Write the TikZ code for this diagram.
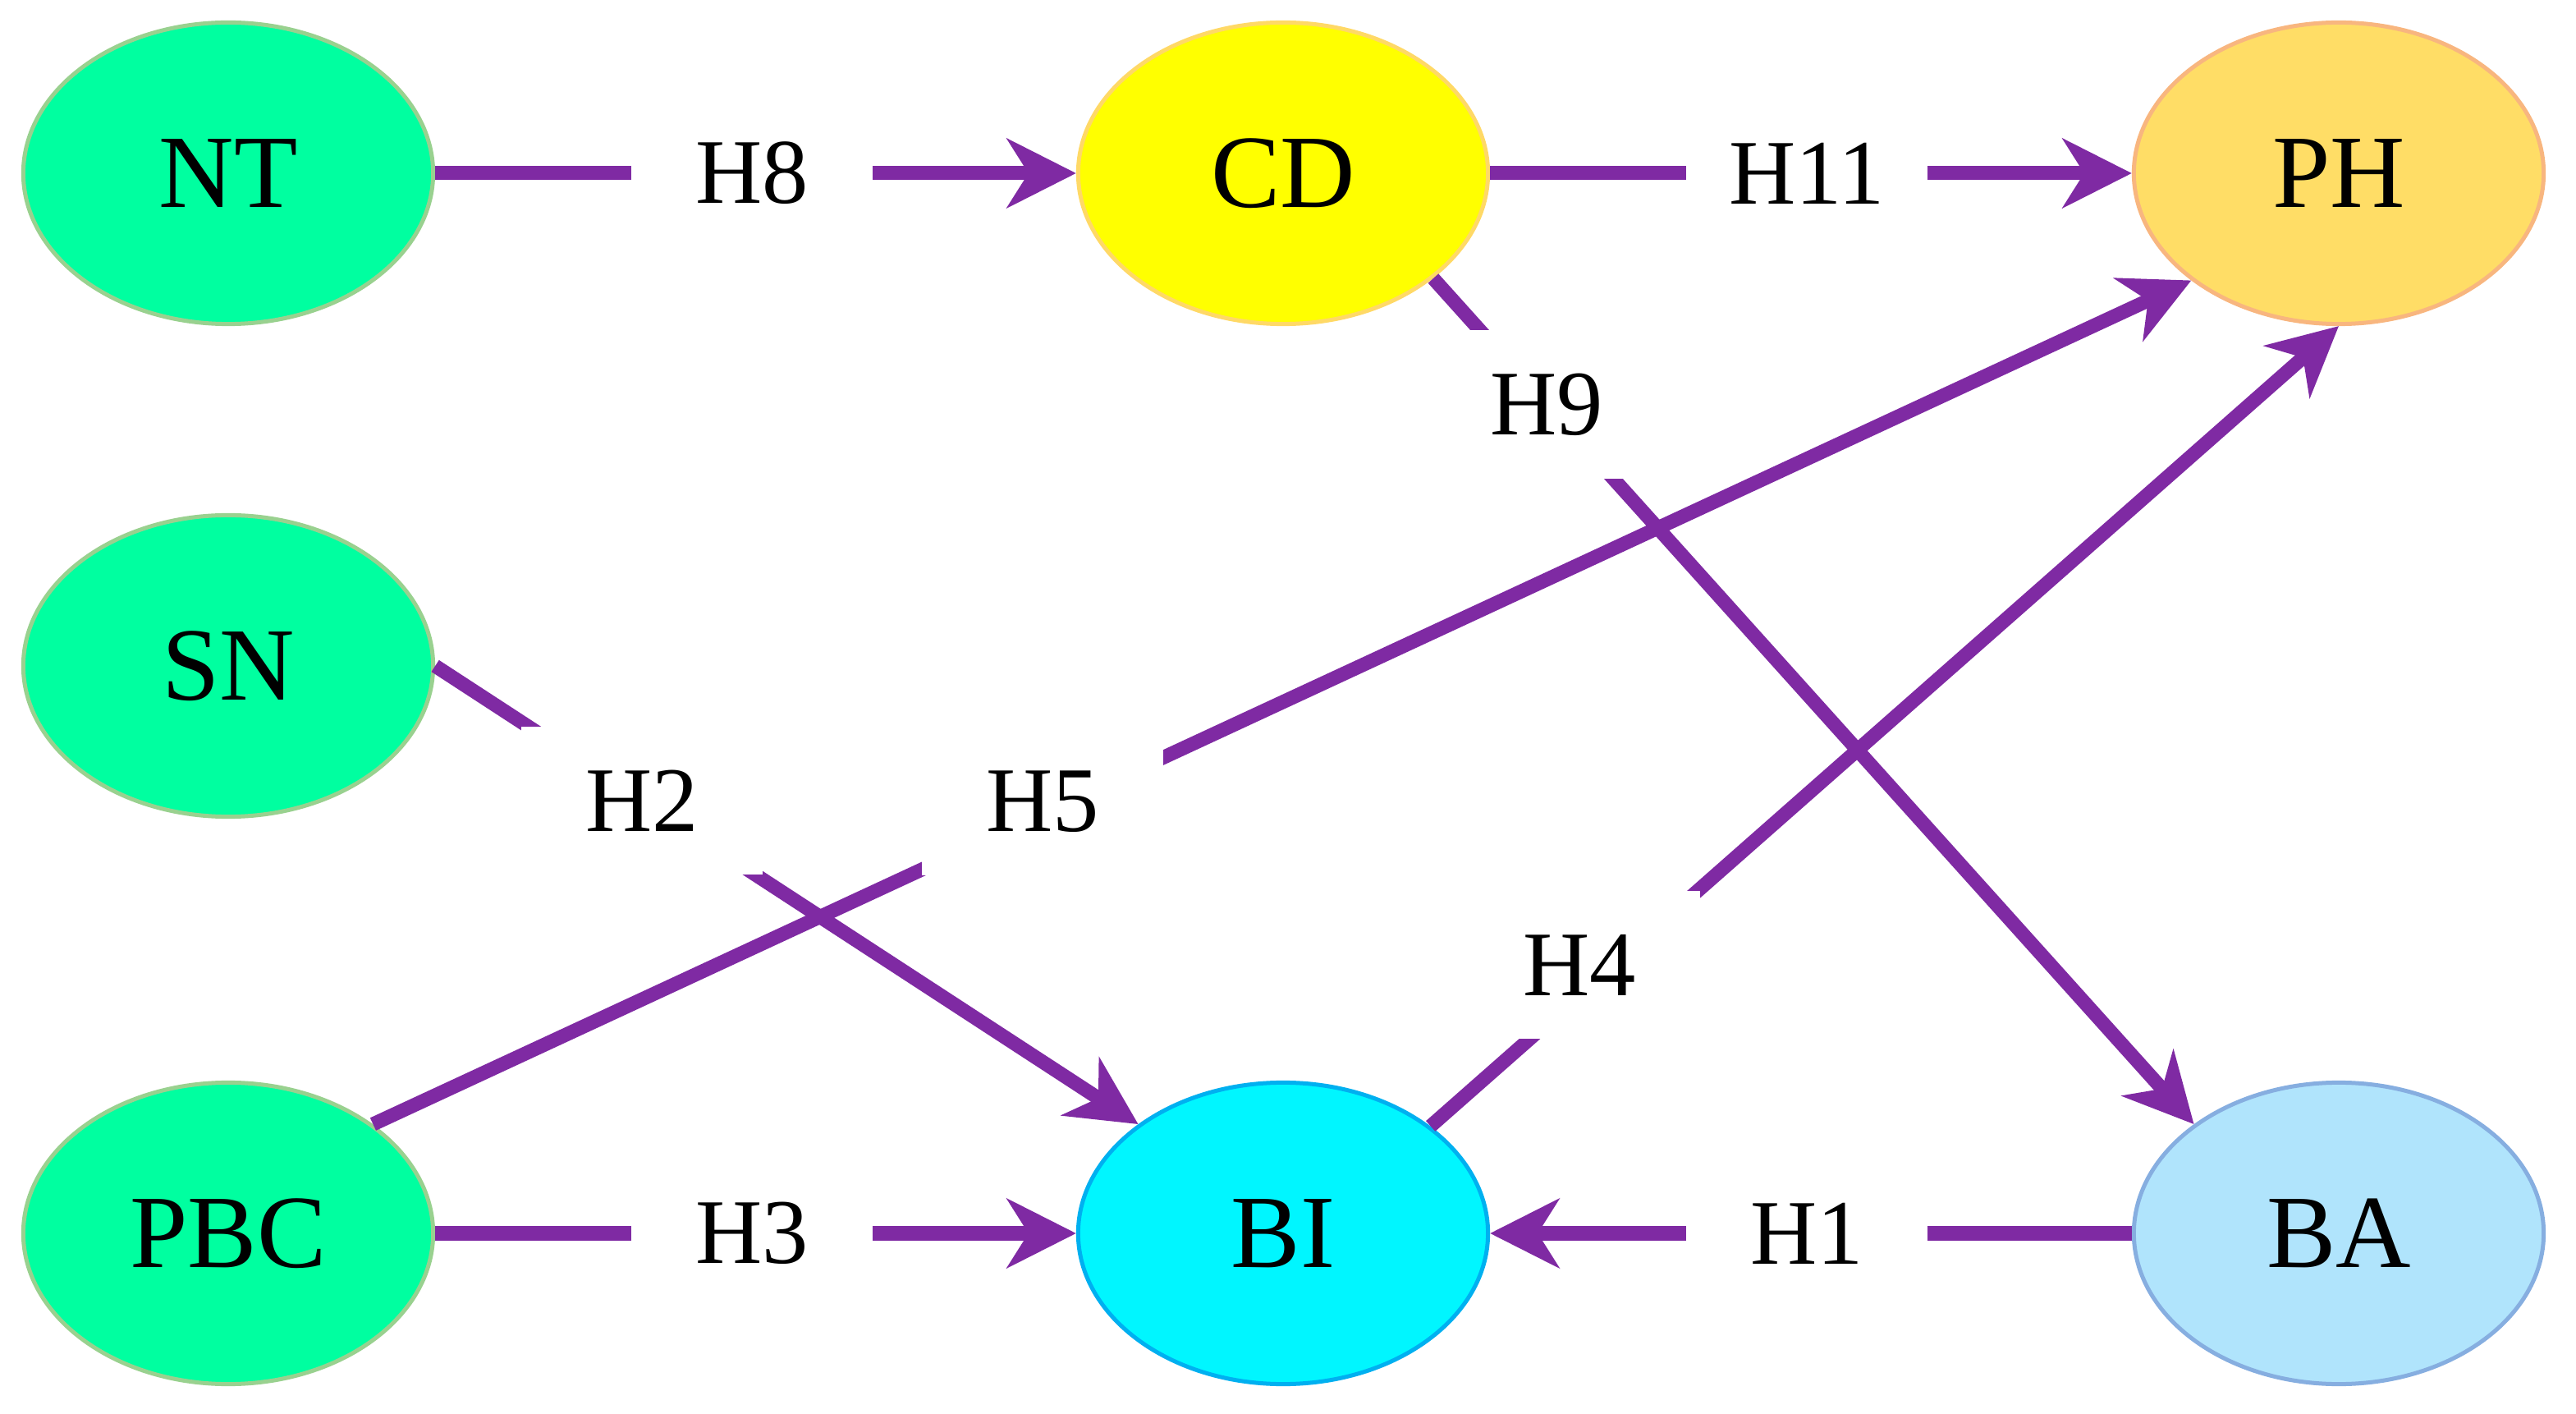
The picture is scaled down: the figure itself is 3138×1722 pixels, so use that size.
\documentclass[tikz,border=0pt]{standalone}
\usepackage{fontspec}
\setmainfont{Liberation Serif}
\usetikzlibrary{shapes.geometric,arrows.meta}
\definecolor{edgec}{RGB}{127,42,163}
\definecolor{grfill}{RGB}{0,255,160}
\definecolor{grline}{RGB}{153,209,143}
\definecolor{cdfill}{RGB}{255,255,0}
\definecolor{cdline}{RGB}{255,217,102}
\definecolor{phfill}{RGB}{255,221,102}
\definecolor{phline}{RGB}{248,182,127}
\definecolor{bifill}{RGB}{0,246,255}
\definecolor{biline}{RGB}{0,176,240}
\definecolor{bafill}{RGB}{176,228,252}
\definecolor{baline}{RGB}{134,174,224}
\begin{document}
\begin{tikzpicture}[x=0.01cm,y=-0.01cm,
  ell/.style={ellipse, minimum width=4.99cm, minimum height=3.67cm, inner sep=0pt, line width=0.05cm, font=\fontsize{36}{42}\selectfont},
  grn/.style={ell, fill=grfill, draw=grline},
  edge/.style={draw=edgec, line width=0.17cm},
  arr/.style={edge, -{Stealth[length=0.84cm,width=0.84cm,inset=0.26cm]}},
  lab/.style={fill=white, minimum width=2.94cm, minimum height=1.8cm, inner sep=0pt, font=\fontsize{32}{38}\selectfont}]
\useasboundingbox (0,0) rectangle (3138,1722);
\node[grn] (NT) at (278,211) {NT};
\node[grn] (SN) at (278,811) {SN};
\node[grn] (PBC) at (278,1502) {PBC};
\node[ell, fill=cdfill, draw=cdline] (CD) at (1563,211) {CD};
\node[ell, fill=phfill, draw=phline] (PH) at (2849,211) {PH};
\node[ell, fill=bifill, draw=biline] (BI) at (1563,1502) {BI};
\node[ell, fill=bafill, draw=baline] (BA) at (2849,1502) {BA};
\draw[arr] (NT.east) -- node[lab, pos=0.494] (h8) {H8} (CD.west);
\draw[arr] (CD.east) -- node[lab, pos=0.494] (h11) {H11} (PH.west);
\draw[arr] (PBC.east) -- node[lab, pos=0.494] (h3) {H3} (BI.west);
\draw[arr] (BA.west) -- node[lab, pos=0.506] (h1) {H1} (BI.east);
\draw[arr] (SN.east) -- node[lab, pos=0.294] (h2) {H2} (BI.143);
\draw[arr] (PBC.37) -- node[lab, pos=0.371, xshift=-0.06cm, yshift=0.12cm] (h5) {H5} (PH.216);
\draw[arr] (BI.36) -- node[lab, pos=0.18, xshift=-0.18cm, yshift=0.21cm] (h4) {H4} (PH.south);
\draw[arr] (CD.-35) -- node[lab, pos=0.149] (h9) {H9} (BA.143);
\end{tikzpicture}
\end{document}
